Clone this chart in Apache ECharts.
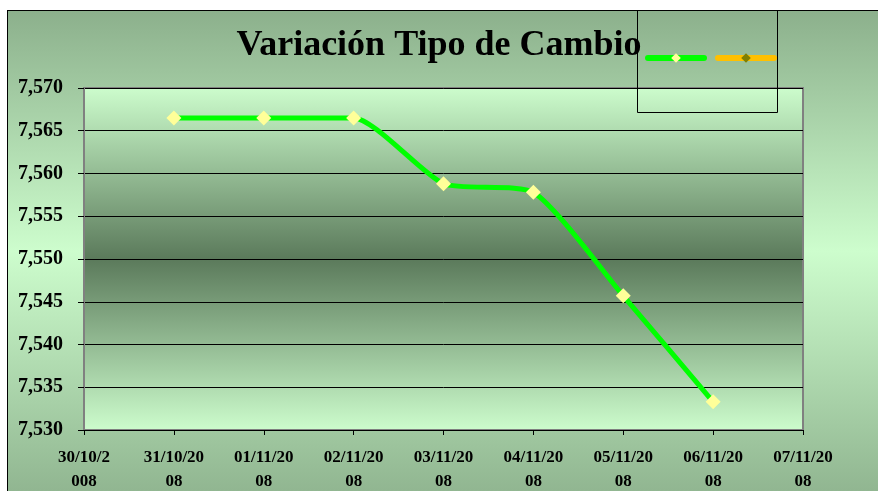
<!DOCTYPE html>
<html>
<head>
<meta charset="utf-8">
<script src="https://cdn.jsdelivr.net/npm/echarts@6/dist/echarts.min.js"></script>
<style>
  html, body { margin: 0; padding: 0; background: #fff; }
  #wrap { position: relative; width: 878px; height: 491px; overflow: hidden; }
  #bg {
    position: absolute; left: 7px; top: 10px; width: 900px; height: 500px;
    border-left: 1px solid #000; border-top: 1px solid #000;
    background: linear-gradient(to bottom, #8cb08c 0%, #cdfdcd 48%, #8cb08c 100%);
  }
  #chart { position: absolute; left: 0; top: 0; width: 878px; height: 491px; }
</style>
</head>
<body>
<div id="wrap">
  <div id="bg"></div>
  <div id="chart"></div>
</div>
<script>
var fechas = ['30/10/2\n008', '31/10/20\n08', '01/11/20\n08', '02/11/20\n08', '03/11/20\n08',
  '04/11/20\n08', '05/11/20\n08', '06/11/20\n08', '07/11/20\n08']
var tipoCambio = [null, 7.5665, 7.5665, 7.5665, 7.5588, 7.5578, 7.5457, 7.5333, null]
var serie2 = [null, null, null, null, null, null, null, null, null]

var serif = "'Liberation Serif', 'Times New Roman', serif"

var chart = echarts.init(document.getElementById('chart'), null, { renderer: 'canvas' })

var option = {
  backgroundColor: 'transparent',
  animation: false,
  title: {
    text: 'Variación Tipo de Cambio',
    left: 'center',
    top: 23,
    textStyle: {
      fontFamily: serif,
      fontWeight: 'bold',
      fontSize: 36,
      color: '#000'
    }
  },
  legend: {
    left: 640,
    top: 47,
    itemWidth: 56,
    itemHeight: 12,
    itemGap: 8,
    formatter: function () { return '' },
    lineStyle: { width: 6, cap: 'round' },
    data: ['Tipo de Cambio', 'Serie2']
  },
  graphic: [{
    type: 'rect',
    z: 100,
    shape: { x: 637.5, y: 10.5, width: 140, height: 102 },
    style: { fill: 'rgba(140,176,140,0.0)', stroke: '#000', lineWidth: 1 }
  }],
  grid: {
    left: 84,
    right: 75,
    top: 88,
    bottom: 61,
    outerBoundsMode: 'none',
    containLabel: false,
    show: true,
    borderColor: '#808080',
    borderWidth: 2,
    backgroundColor: new echarts.graphic.LinearGradient(0, 0, 0, 1, [
      { offset: 0, color: '#cdfdcd' },
      { offset: 0.5, color: '#5b7a5b' },
      { offset: 1, color: '#cdfdcd' }
    ])
  },
  xAxis: {
    type: 'category',
    boundaryGap: false,
    data: fechas,
    axisLine: { lineStyle: { color: '#000', width: 1 } },
    axisTick: { show: true, length: 5, alignWithLabel: true, lineStyle: { color: '#000' } },
    axisLabel: {
      interval: 0,
      margin: 16,
      fontFamily: serif,
      fontWeight: 'bold',
      fontSize: 17,
      lineHeight: 24,
      color: '#000'
    }
  },
  yAxis: {
    type: 'value',
    min: 7.53,
    max: 7.57,
    interval: 0.005,
    axisLine: { show: true, lineStyle: { color: '#808080', width: 1 } },
    axisTick: { show: true, length: 6, lineStyle: { color: '#000' } },
    splitLine: { show: true, lineStyle: { color: '#000', width: 1 } },
    axisLabel: {
      margin: 21,
      fontFamily: serif,
      fontWeight: 'bold',
      fontSize: 20,
      color: '#000',
      formatter: function (v) { return v.toFixed(3).replace('.', ',') }
    }
  },
  series: [{
    name: 'Tipo de Cambio',
    type: 'line',
    data: tipoCambio,
    smooth: 0.2,
    symbol: 'diamond',
    symbolSize: 15,
    lineStyle: { color: '#00ff00', width: 5, cap: 'round' },
    itemStyle: { color: '#ffff99', borderWidth: 0 }
  }, {
    name: 'Serie2',
    type: 'line',
    data: serie2,
    symbol: 'diamond',
    symbolSize: 15,
    lineStyle: { color: '#ffc000', width: 5, cap: 'round' },
    itemStyle: { color: '#808000', borderWidth: 0 }
  }]
}

chart.setOption(option)
</script>
</body>
</html>
